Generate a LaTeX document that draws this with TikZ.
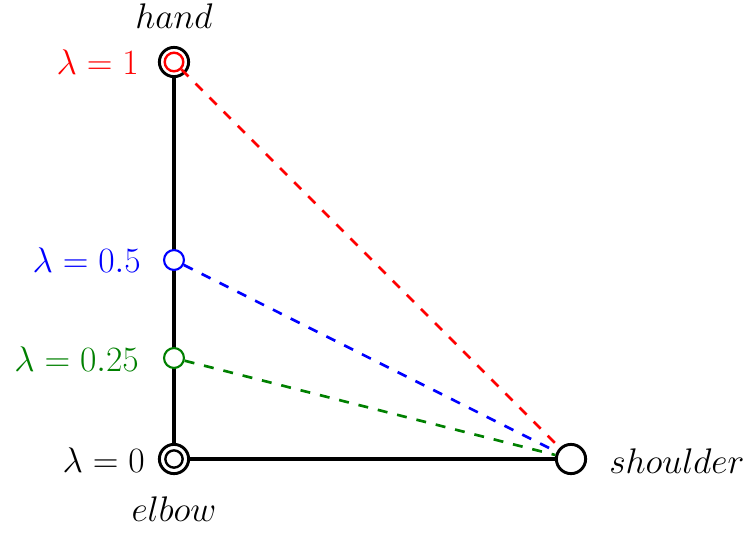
\RequirePackage{fix-cm}
\documentclass[tikz,border=0pt]{standalone}
\usepackage{tikz}
\definecolor{dgreen}{RGB}{0,128,0}
\begin{document}
\begin{tikzpicture}[x=0.026458cm,y=-0.026458cm,
  font=\fontsize{26.8}{31}\selectfont,
  arm/.style={line width=2.4pt},
  joint/.style={circle,draw,fill=white,inner sep=0pt,line width=2.2pt,minimum size=22},
  inner/.style={circle,draw,fill=white,inner sep=0pt,line width=1.8pt,minimum size=13},
  mid/.style={circle,draw,fill=white,inner sep=0pt,line width=1.6pt,minimum size=15},
  dsh/.style={line width=2pt,dash pattern=on 7.5pt off 7.5pt},
  lbl/.style={inner sep=0pt}]
\useasboundingbox (0,0) rectangle (747,534);
\coordinate (Hc) at (174,62);
\coordinate (Ec) at (174,459);
\coordinate (Sc) at (571,459);
\draw[arm] (Hc) -- (Ec) -- (Sc);
\node[joint] (H) at (Hc) {};
\node[joint] (E) at (Ec) {};
\node[inner] (Ei) at (Ec) {};
\node[joint] (S) at (Sc) {};
\node[mid,draw=blue] (M5) at (174,260) {};
\node[mid,draw=dgreen] (M25) at (174,358) {};
\node[inner,draw=red,minimum size=14] (Hr) at (Hc) {};
\draw[dsh,red] (Hr) -- (S);
\draw[dsh,blue] (M5) -- (S);
\draw[dsh,dgreen] (M25) -- (S);
\node[lbl] (thand) at (174,16) {$hand$};
\node[lbl] (telbow) at (174,509) {$elbow$};
\node[lbl,anchor=west] (tsh) at (609,461) {$shoulder$};
\node[lbl,anchor=east,text=red] (l1) at (139,62) {$\lambda=1$};
\node[lbl,anchor=east,text=blue] (l5) at (141,260) {$\lambda=0.5$};
\node[lbl,anchor=east,text=dgreen] (l25) at (139,359) {$\lambda=0.25$};
\node[lbl,anchor=east] (l0) at (145,460) {$\lambda=0$};
\end{tikzpicture}
\end{document}
